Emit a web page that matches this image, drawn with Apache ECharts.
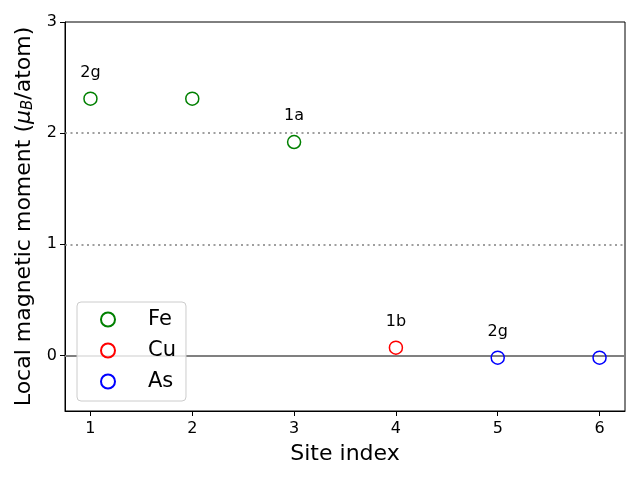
<!DOCTYPE html>
<html><head><meta charset="utf-8">
<script src="https://cdn.jsdelivr.net/npm/echarts@6/dist/echarts.min.js"></script>
<style>html,body{margin:0;padding:0;background:#fff}#c{width:640px;height:480px}</style>
</head><body><div id="c"></div>
<script>
const xTicks = [1, 2, 3, 4, 5, 6];
const yTicks = [0, 1, 2, 3];
const feX = [1, 2, 3];
const feY = [2.31, 2.31, 1.92];
const feLabels = ['2g', '', '1a'];
const cuX = [4];
const cuY = [0.07];
const cuLabels = ['1b'];
const asX = [5, 6];
const asY = [-0.02, -0.02];
const asLabels = ['2g', ''];
const refDotted = [1, 2];
const refSolid = [0];

const FONT = 'DejaVu Sans';
function mk(xs, ys, labels) {
  return xs.map((x, i) => ({
    value: [x, ys[i]],
    label: { show: labels[i] !== '', formatter: labels[i] }
  }));
}
function ser(name, color, xs, ys, labels, extra) {
  return Object.assign({
    name: name, type: 'scatter', symbol: 'circle', symbolSize: 13,
    itemStyle: { color: 'rgba(0,0,0,0)', borderColor: color, borderWidth: 1.5, opacity: 1 },
    label: { position: 'top', distance: 11, color: '#000', fontSize: 16, fontFamily: FONT },
    data: mk(xs, ys, labels), z: 5
  }, extra || {});
}
const chart = echarts.init(document.getElementById('c'), null, { renderer: 'canvas' });
chart.setOption({
  animation: false,
  backgroundColor: '#fff',
  grid: { left: 65, right: 15, top: 22, bottom: 69, show: true, borderColor: '#000', borderWidth: 1, backgroundColor: 'transparent' },
  xAxis: {
    type: 'value', min: 0.75, max: 6.25,
    name: 'Site index', nameLocation: 'middle', nameGap: 32,
    nameTextStyle: { fontSize: 22, fontFamily: FONT, color: '#000' },
    axisLine: { show: true, onZero: false, lineStyle: { color: '#000' } },
    axisTick: { show: true, length: 5, customValues: xTicks, lineStyle: { color: '#000' } },
    axisLabel: { customValues: xTicks, fontSize: 16, fontFamily: FONT, color: '#000', margin: 10 },
    splitLine: { show: false }
  },
  yAxis: {
    type: 'value', min: -0.5, max: 3,
    name: '{n|Local magnetic moment (}{i|μ}{s|B}{n|/atom)}', nameLocation: 'middle', nameGap: 22,
    nameTextStyle: {
      fontSize: 22, fontFamily: FONT, color: '#000',
      rich: {
        n: { fontSize: 22, fontFamily: FONT, color: '#000' },
        i: { fontSize: 22, fontFamily: FONT, fontStyle: 'italic', color: '#000' },
        s: { fontSize: 15, fontFamily: FONT, fontStyle: 'italic', color: '#000', verticalAlign: 'bottom', padding: [8, 0, 0, 0] }
      }
    },
    axisLine: { show: true, onZero: false, lineStyle: { color: '#000' } },
    axisTick: { show: true, length: 5, customValues: yTicks, lineStyle: { color: '#000' } },
    axisLabel: { customValues: yTicks, fontSize: 16, fontFamily: FONT, color: '#000', margin: 8 },
    splitLine: { show: false }
  },
  legend: {
    orient: 'vertical', left: 77, top: 302,
    padding: [7, 10, 9, 23],
    itemWidth: 14, itemHeight: 14, itemGap: 10,
    backgroundColor: 'rgba(255,255,255,0.8)', borderColor: '#cccccc', borderWidth: 1, borderRadius: 4,
    textStyle: { fontSize: 21, fontFamily: FONT, color: '#000', padding: [0, 0, 0, 28], lineHeight: 14 },
    data: ['Fe', 'Cu', 'As']
  },
  series: [
    ser('Fe', 'green', feX, feY, feLabels, {
      markLine: {
        silent: true, symbol: 'none', label: { show: false }, z: 1,
        data: refDotted.map(v => ({ yAxis: v, lineStyle: { type: [2, 3.5], color: '#808080', width: 1.6 } }))
          .concat(refSolid.map(v => ({ yAxis: v, lineStyle: { type: 'solid', color: '#808080', width: 1.8 } })))
      }
    }),
    ser('Cu', 'red', cuX, cuY, cuLabels),
    ser('As', 'blue', asX, asY, asLabels)
  ]
});
</script></body></html>
